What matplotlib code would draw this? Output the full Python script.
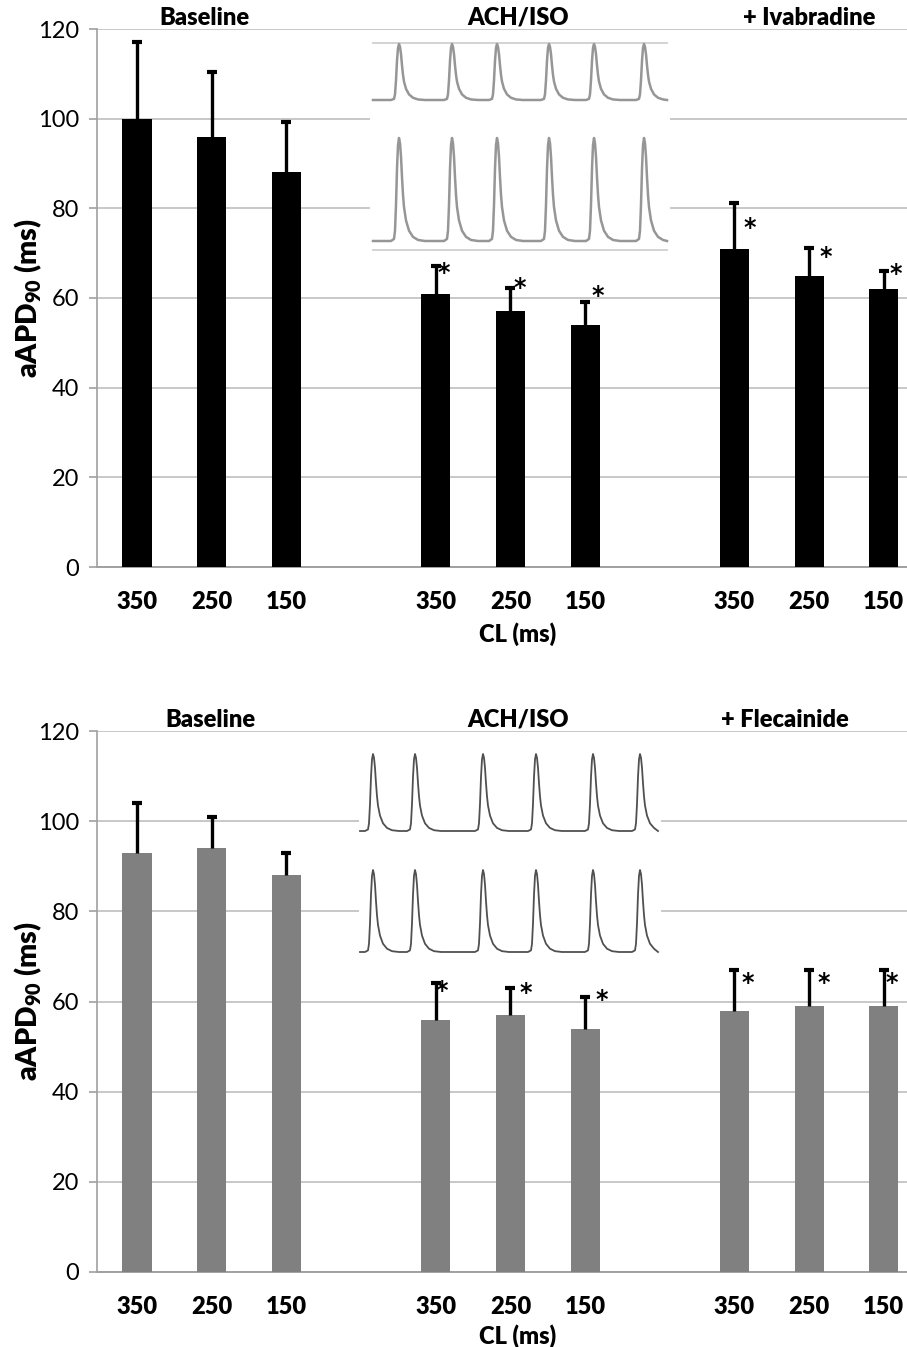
import matplotlib
matplotlib.use("Agg")
import matplotlib.pyplot as plt
import numpy as np

plt.rcParams['font.family'] = ['Lato', 'DejaVu Sans']
plt.rcParams['mathtext.fontset'] = 'custom'
plt.rcParams['mathtext.bf'] = 'Lato:heavy'
plt.rcParams['mathtext.rm'] = 'Lato'

# ---------------- data ----------------
cl_labels = ["350", "250", "150"]
group_names_top = ["Baseline", "ACH/ISO", "+ Ivabradine"]
group_names_bot = ["Baseline", "ACH/ISO", "+ Flecainide"]

top_means = [100, 96, 88, 61, 57, 54, 71, 65, 62]
top_upper = [117.2, 110.3, 99.2, 67.2, 62.2, 59.2, 81.1, 71.1, 66.1]
top_sig = [False, False, False, True, True, True, True, True, True]

bot_means = [93, 94, 88, 56, 57, 54, 58, 59, 59]
bot_upper = [104, 101, 93, 64, 63, 61, 67, 67, 67]
bot_sig = [False, False, False, True, True, True, True, True, True]

# inset traces (figure-pixel frame): peak times and a single AP template
top_peaks = [399, 452, 497, 549, 594, 644]
bot_peaks = [373, 415, 483, 536, 593, 640]
ap_dx = [-8, -5, -4, -3, -2, -1, 0, 1, 2, 3, 4, 5, 7, 10, 14, 19, 26]
ap_amp = [0, 0.02, 0.1, 0.35, 0.7, 0.93, 1.0, 0.95, 0.82, 0.62, 0.45, 0.33, 0.2, 0.1, 0.04, 0.01, 0]

W, H = 907, 1347
fig = plt.figure(figsize=(W / 100, H / 100), dpi=100)

positions = [0, 1, 2, 4, 5, 6, 8, 9, 10]
xl = (-0.535, 10.31)
BOLD = 'heavy'


def fx(px):
    return px / W


def fy(py):
    return 1 - py / H


def make_panel(ybot_px, ytop_px, means, upper, sig, color, names, title_x, star_off, xlab_y):
    ax = fig.add_axes([fx(97), fy(ybot_px), 1 - fx(97), fy(ytop_px) - fy(ybot_px)])
    ax.bar(positions, means, width=0.39, color=color, zorder=3)
    ax.vlines(positions, means, upper, colors='black', lw=2.4, zorder=4)
    ax.plot(positions, upper, ls='none', marker='_', ms=7, mew=3, color='black', zorder=4)
    for p, u, s, off in zip(positions, upper, sig, star_off):
        if s:
            ax.annotate("*", (p, u), xytext=off, textcoords='offset pixels',
                        ha='center', va='center', fontsize=17, fontweight='bold',
                        family='DejaVu Sans', zorder=5)
    ax.set_xlim(*xl)
    ax.set_ylim(0, 120)
    ax.set_yticks(range(0, 121, 20))
    ax.yaxis.grid(True, color='#c8c8c8', lw=1.4, zorder=0)
    ax.set_axisbelow(True)
    ax.spines['top'].set_visible(False)
    ax.spines['right'].set_visible(False)
    ax.spines['left'].set_color('#a0a0a0')
    ax.spines['bottom'].set_color('#a0a0a0')
    ax.spines['left'].set_linewidth(1.2)
    ax.spines['bottom'].set_linewidth(1.4)
    ax.tick_params(axis='y', length=6, width=1.2, color='#a0a0a0', labelsize=17, pad=7)
    ax.set_xticks(positions)
    ax.set_xticklabels(cl_labels * 3, fontsize=17, fontweight=BOLD)
    ax.tick_params(axis='x', length=0, pad=17)
    ax.set_xlabel("CL (ms)", fontsize=17, fontweight=BOLD)
    ax.xaxis.set_label_coords((5.1 - xl[0]) / (xl[1] - xl[0]), xlab_y)
    ax.set_ylabel("aAPD$_{\\mathbf{90}}$ (ms)", fontsize=20.5, fontweight=BOLD)
    ax.yaxis.set_label_coords(-0.066, 0.5)
    for name, tx in zip(names, title_x):
        ax.annotate(name, (tx, 1.0), xycoords=ax.get_xaxis_transform(), xytext=(0, 4),
                    textcoords='offset pixels', ha='center', va='baseline',
                    fontsize=17, fontweight=BOLD)
    return ax


star_top = [(0, 0)] * 3 + [(8, -7), (9, 0), (13, 6), (15, -25), (17, -9), (12, -3)]
star_bot = [(0, 0)] * 3 + [(6, -8), (15, -5), (17, -3), (13, -13), (15, -13), (8, -13)]

ax1 = make_panel(567, 29, top_means, top_upper, top_sig, 'black', group_names_top,
                 [0.91, 5.1, 9.0], star_top, -0.102)
ax2 = make_panel(1272, 731, bot_means, bot_upper, bot_sig, '#808080', group_names_bot,
                 [0.98, 5.1, 8.67], star_bot, -0.097)


def ap_trace(peaks, start, end, base, peak):
    xs = [start]
    ys = [base]
    for pk in peaks:
        for dx, a in zip(ap_dx, ap_amp):
            x = pk + dx
            if start <= x <= end:
                xs.append(x)
                ys.append(base + (peak - base) * a)
    xs.append(end)
    ys.append(base)
    order = np.argsort(xs, kind='stable')
    return np.array(xs)[order], np.array(ys)[order]


def inset(x0, x1, y0, y1, peaks, tstart, tend, traces, color, lw, borders):
    ia = fig.add_axes([fx(x0), fy(y1), fx(x1) - fx(x0), fy(y0) - fy(y1)])
    ia.set_xlim(x0, x1)
    ia.set_ylim(y1, y0)
    ia.axis('off')
    ia.add_patch(plt.Rectangle((x0, y0), x1 - x0, y1 - y0, color='white', zorder=0))
    for b in borders:
        ia.plot([tstart, tend], [b, b], color='#d0d0d0', lw=1.3)
    for base, pk in traces:
        xs, ys = ap_trace(peaks, tstart, tend, base, pk)
        ia.plot(xs, ys, color=color, lw=lw, solid_joinstyle='round')
    return ia


inset(370, 670, 36, 256, top_peaks, 373, 667, [(100, 44), (241, 138)], '#969696', 1.8, [43, 250])
inset(359, 661, 745, 962, bot_peaks, 360, 658, [(831, 754), (952, 870)], '#505050', 1.3, [])

fig.savefig("out.png", dpi=100)
